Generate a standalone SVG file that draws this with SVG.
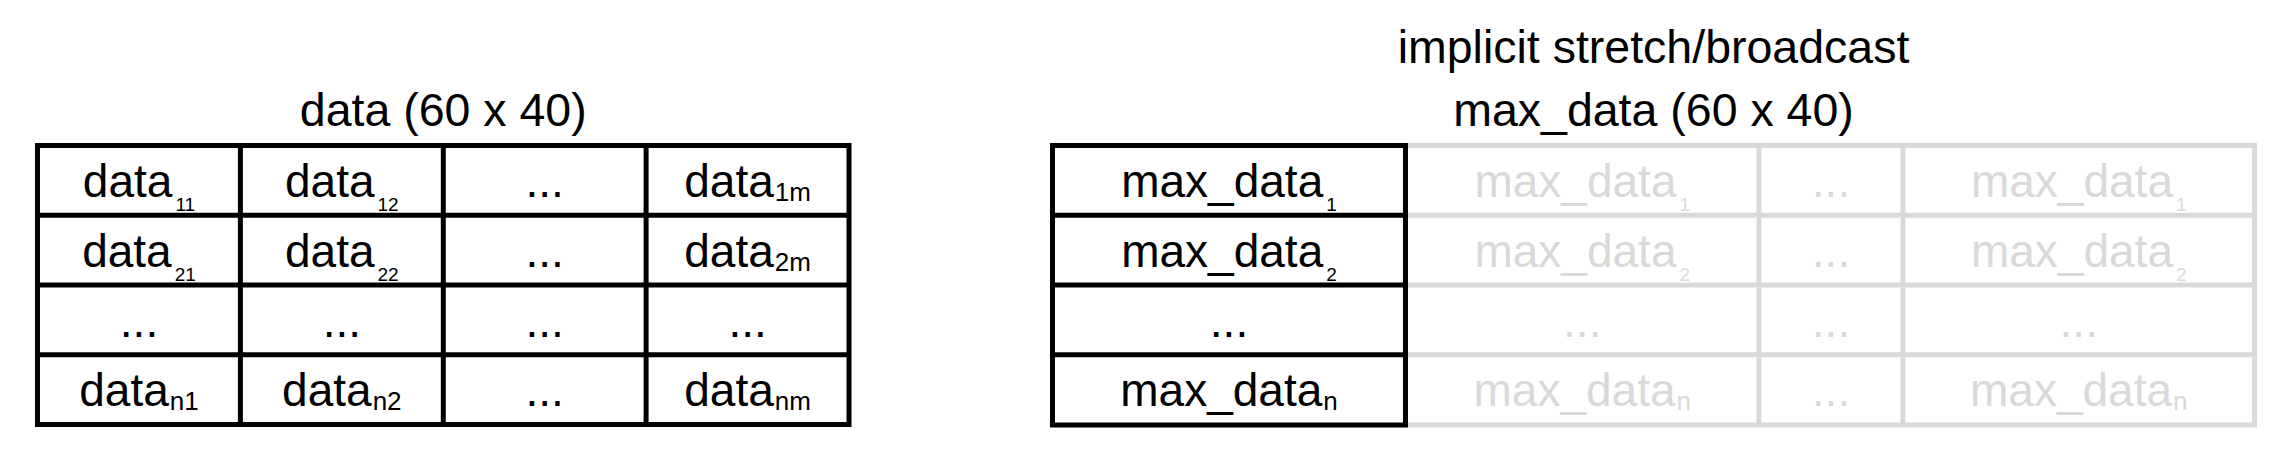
<svg xmlns="http://www.w3.org/2000/svg" width="2274" height="450" viewBox="0 0 2274 450">
<style>
text{font-family:"Liberation Sans",Arial,Helvetica,sans-serif;font-size:46px;text-anchor:middle;fill:#000}
.t{font-size:46.5px}
.g{fill:#d9d9d9}
.s{font-size:19px}
.L{font-size:26px}
.blk{fill:none;stroke:#000;stroke-width:5}
.gry{fill:none;stroke:#d9d9d9;stroke-width:5}
</style>
<rect width="2274" height="450" fill="#fff"/>
<g id="titles">
<text class="t" x="443.25" y="126">data (60 x 40)</text>
<text class="t" x="1653.5" y="63">implicit stretch/broadcast</text>
<text class="t" x="1653.5" y="126">max_data (60 x 40)</text>
</g>
<g id="connectors">
<g id="grid-right-gray" class="gry">
<rect x="1405.5" y="145.5" width="849" height="279.5"/>
<line x1="1759" y1="145.5" x2="1759" y2="425"/>
<line x1="1903" y1="145.5" x2="1903" y2="425"/>
<line x1="1405.5" y1="215.25" x2="2254.5" y2="215.25"/>
<line x1="1405.5" y1="285" x2="2254.5" y2="285"/>
<line x1="1405.5" y1="354.75" x2="2254.5" y2="354.75"/>
</g>
<g id="grid-left" class="blk">
<rect x="37.5" y="145.5" width="811.5" height="279"/>
<line x1="240.4" y1="145.5" x2="240.4" y2="424.5"/>
<line x1="443.3" y1="145.5" x2="443.3" y2="424.5"/>
<line x1="646.1" y1="145.5" x2="646.1" y2="424.5"/>
<line x1="37.5" y1="215.25" x2="849" y2="215.25"/>
<line x1="37.5" y1="285" x2="849" y2="285"/>
<line x1="37.5" y1="354.75" x2="849" y2="354.75"/>
</g>
<g id="grid-right-black" class="blk">
<rect x="1052.5" y="145.5" width="353" height="279.5"/>
<line x1="1052.5" y1="215.25" x2="1405.5" y2="215.25"/>
<line x1="1052.5" y1="285" x2="1405.5" y2="285"/>
<line x1="1052.5" y1="354.75" x2="1405.5" y2="354.75"/>
</g>
</g>
<g id="data-table">
<g id="d11"><text x="139" y="197">data<tspan class="s" dx="3" dy="14">11</tspan></text></g>
<g id="d12"><text x="341.85" y="197">data<tspan class="s" dx="3" dy="14">12</tspan></text></g>
<g id="d13"><text x="544.7" y="197">...</text></g>
<g id="d1m"><text x="747.55" y="197">data<tspan class="L" dx="1" dy="4">1m</tspan></text></g>
<g id="d21"><text x="139" y="266.75">data<tspan class="s" dx="3" dy="14">21</tspan></text></g>
<g id="d22"><text x="341.85" y="266.75">data<tspan class="s" dx="3" dy="14">22</tspan></text></g>
<g id="d23"><text x="544.7" y="266.75">...</text></g>
<g id="d2m"><text x="747.55" y="266.75">data<tspan class="L" dx="1" dy="4">2m</tspan></text></g>
<g id="d31"><text x="139" y="336.5">...</text></g>
<g id="d32"><text x="341.85" y="336.5">...</text></g>
<g id="d33"><text x="544.7" y="336.5">...</text></g>
<g id="d3m"><text x="747.55" y="336.5">...</text></g>
<g id="dn1"><text x="139" y="406.25">data<tspan class="L" dx="1" dy="4">n1</tspan></text></g>
<g id="dn2"><text x="341.85" y="406.25">data<tspan class="L" dx="1" dy="4">n2</tspan></text></g>
<g id="dn3"><text x="544.7" y="406.25">...</text></g>
<g id="dnm"><text x="747.55" y="406.25">data<tspan class="L" dx="1" dy="4">nm</tspan></text></g>
</g>
<g id="max-table">
<g id="m1"><text x="1229" y="197">max_data<tspan class="s" dx="3" dy="14">1</tspan></text></g>
<g id="m2"><text x="1229" y="266.75">max_data<tspan class="s" dx="3" dy="14">2</tspan></text></g>
<g id="m3"><text x="1229" y="336.5">...</text></g>
<g id="mn"><text x="1229" y="406.25">max_data<tspan class="L" dx="1" dy="4">n</tspan></text></g>
</g>
<g id="broadcast-table">
<g id="b12"><text class="g" x="1582.25" y="197">max_data<tspan class="s" dx="3" dy="14">1</tspan></text></g>
<g id="b13"><text class="g" x="1831" y="197">...</text></g>
<g id="b14"><text class="g" x="2078.75" y="197">max_data<tspan class="s" dx="3" dy="14">1</tspan></text></g>
<g id="b22"><text class="g" x="1582.25" y="266.75">max_data<tspan class="s" dx="3" dy="14">2</tspan></text></g>
<g id="b23"><text class="g" x="1831" y="266.75">...</text></g>
<g id="b24"><text class="g" x="2078.75" y="266.75">max_data<tspan class="s" dx="3" dy="14">2</tspan></text></g>
<g id="b32"><text class="g" x="1582.25" y="336.5">...</text></g>
<g id="b33"><text class="g" x="1831" y="336.5">...</text></g>
<g id="b34"><text class="g" x="2078.75" y="336.5">...</text></g>
<g id="bn2"><text class="g" x="1582.25" y="406.25">max_data<tspan class="L" dx="1" dy="4">n</tspan></text></g>
<g id="bn3"><text class="g" x="1831" y="406.25">...</text></g>
<g id="bn4"><text class="g" x="2078.75" y="406.25">max_data<tspan class="L" dx="1" dy="4">n</tspan></text></g>
</g>
</svg>
